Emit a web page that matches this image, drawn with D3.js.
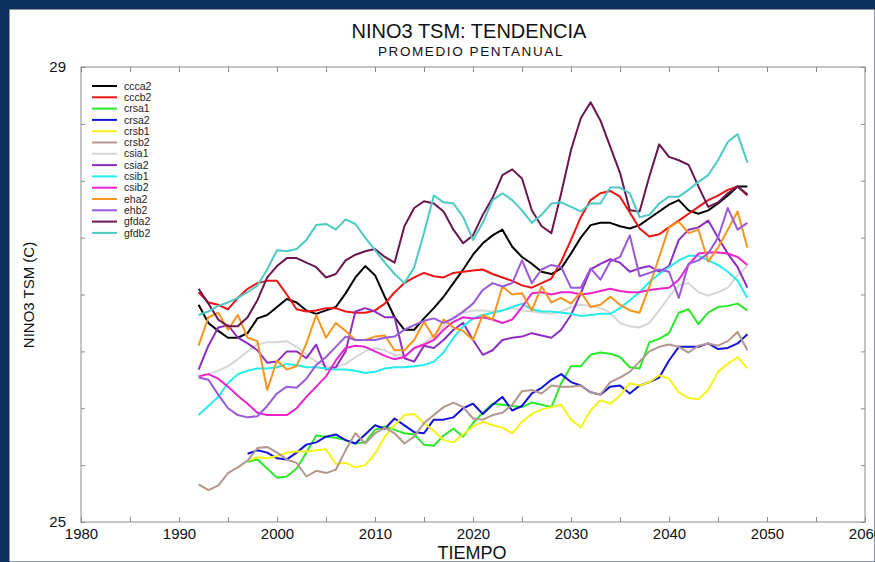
<!DOCTYPE html>
<html>
<head>
<meta charset="utf-8">
<script src="https://cdn.jsdelivr.net/npm/d3@7"></script>
<style>
  html, body { margin: 0; padding: 0; background: #0b2f5e; }
  svg { display: block; }
  .axis path, .axis line { stroke: #8a8a8a; }
  .axis text { fill: #111; font-family: "Liberation Sans", Arial, sans-serif; font-size: 15px; }
  .frame { fill: none; stroke: #8a8a8a; stroke-width: 1; }
  .series-line { fill: none; stroke-width: 2; stroke-linejoin: round; }
  .legend text { font-family: "Liberation Sans", Arial, sans-serif; font-size: 10.5px; fill: #222; }
  .title { font-family: "Liberation Sans", Arial, sans-serif; fill: #111; text-anchor: middle; }
</style>
</head>
<body>
<div id="chart"></div>
<script>
// five-year (pentad) running means, one value per year
const years = d3.range(1992, 2049);
const yearsFrom1997 = d3.range(1997, 2049);

const xTicks = d3.range(1980, 2061, 5);
const xLabels = d3.range(1980, 2061, 10);
const yTicks = d3.range(25, 29.01, 0.5);
const yLabels = [25, 29];

const seriesNames = ['ccca2', 'cccb2', 'crsa1', 'crsa2', 'crsb1', 'crsb2', 'csia1',
  'csia2', 'csib1', 'csib2', 'eha2', 'ehb2', 'gfda2', 'gfdb2'];
const seriesColors = ['#000000', '#ee1414', '#2be82b', '#1414d8', '#f4f41c', '#b3978f', '#d6d6d6',
  '#8e2ec0', '#26ecec', '#ec22cc', '#f7941e', '#9a5ad8', '#6a1650', '#4ccac4'];

const ccca2 = [26.91, 26.75, 26.68, 26.62, 26.62, 26.66, 26.79, 26.82, 26.89, 26.96,
  26.93, 26.86, 26.83, 26.86, 26.89, 27.01, 27.15, 27.25, 27.17, 26.98,
  26.80, 26.69, 26.69, 26.79, 26.88, 26.98, 27.10, 27.22, 27.35, 27.45,
  27.52, 27.57, 27.42, 27.33, 27.27, 27.20, 27.18, 27.23, 27.36, 27.50,
  27.61, 27.63, 27.63, 27.60, 27.58, 27.61, 27.67, 27.73, 27.79, 27.83,
  27.74, 27.71, 27.74, 27.80, 27.87, 27.95, 27.95];
const cccb2 = [27.02, 26.93, 26.91, 26.87, 26.97, 27.05, 27.10, 27.12, 27.12, 27.00,
  26.87, 26.85, 26.86, 26.88, 26.88, 26.85, 26.84, 26.84, 26.86, 26.92,
  27.02, 27.10, 27.15, 27.19, 27.16, 27.15, 27.19, 27.20, 27.21, 27.22,
  27.18, 27.15, 27.12, 27.08, 27.06, 27.10, 27.14, 27.29, 27.48, 27.68,
  27.83, 27.89, 27.91, 27.86, 27.72, 27.58, 27.51, 27.53, 27.59, 27.65,
  27.71, 27.77, 27.83, 27.87, 27.92, 27.95, 27.87];
const crsa1 = [25.53, 25.55, 25.47, 25.39, 25.40, 25.47, 25.61, 25.76, 25.75, 25.74,
  25.72, 25.69, 25.70, 25.81, 25.84, 25.81, 25.78, 25.77, 25.68, 25.67,
  25.76, 25.82, 25.75, 25.87, 25.96, 26.04, 26.03, 26.02, 26.01, 26.05,
  26.03, 26.01, 26.22, 26.37, 26.37, 26.47, 26.49, 26.48, 26.45, 26.36,
  26.35, 26.58, 26.61, 26.66, 26.84, 26.87, 26.74, 26.84, 26.89, 26.90,
  26.92, 26.86];
const crsa2 = [25.60, 25.63, 25.61, 25.56, 25.55, 25.61, 25.68, 25.70, 25.75, 25.77,
  25.72, 25.69, 25.77, 25.85, 25.82, 25.91, 25.85, 25.79, 25.78, 25.90,
  25.90, 25.92, 26.00, 26.04, 25.95, 26.03, 26.10, 25.98, 26.02, 26.13,
  26.18, 26.25, 26.30, 26.23, 26.20, 26.14, 26.12, 26.19, 26.20, 26.13,
  26.20, 26.23, 26.27, 26.42, 26.54, 26.54, 26.54, 26.57, 26.52, 26.53,
  26.57, 26.65];
const crsb1 = [25.54, 25.57, 25.56, 25.58, 25.61, 25.62, 25.62, 25.63, 25.64, 25.51,
  25.52, 25.48, 25.50, 25.60, 25.75, 25.85, 25.94, 25.95, 25.87, 25.80,
  25.72, 25.70, 25.77, 25.84, 25.88, 25.85, 25.83, 25.78, 25.88, 25.95,
  25.99, 26.01, 26.03, 25.90, 25.83, 25.98, 26.07, 26.04, 26.11, 26.22,
  26.20, 26.23, 26.29, 26.26, 26.14, 26.09, 26.08, 26.16, 26.32, 26.39,
  26.45, 26.35];
const crsb2 = [25.33, 25.28, 25.32, 25.43, 25.48, 25.54, 25.65, 25.66, 25.61, 25.55,
  25.52, 25.40, 25.45, 25.43, 25.46, 25.63, 25.78, 25.69, 25.78, 25.83,
  25.78, 25.69, 25.75, 25.87, 25.94, 26.01, 26.05, 26.01, 25.91, 25.90,
  25.94, 25.96, 26.03, 26.15, 26.16, 26.13, 26.20, 26.19, 26.19, 26.20,
  26.14, 26.12, 26.23, 26.27, 26.32, 26.41, 26.50, 26.54, 26.56, 26.54,
  26.49, 26.55, 26.57, 26.55, 26.59, 26.67, 26.51];
const csia1 = [26.28, 26.30, 26.33, 26.37, 26.43, 26.50, 26.56, 26.58, 26.58, 26.59,
  26.54, 26.47, 26.41, 26.37, 26.36, 26.39, 26.45, 26.50, 26.53, 26.51,
  26.47, 26.46, 26.52, 26.57, 26.64, 26.72, 26.80, 26.84, 26.86, 26.86,
  26.85, 26.86, 26.88, 26.86, 26.85, 26.84, 26.83, 26.85, 26.89, 26.91,
  26.90, 26.88, 26.84, 26.75, 26.72, 26.71, 26.75, 26.86, 26.98, 27.08,
  27.10, 27.02, 26.99, 27.02, 27.06, 27.17, 27.25];
const csia2 = [26.34, 26.55, 26.71, 26.73, 26.62, 26.57, 26.51, 26.40, 26.41, 26.50,
  26.50, 26.44, 26.56, 26.34, 26.36, 26.50, 26.85, 26.88, 26.85, 26.80,
  26.80, 26.44, 26.41, 26.55, 26.53, 26.60, 26.69, 26.75, 26.60, 26.47,
  26.51, 26.60, 26.62, 26.63, 26.66, 26.64, 26.62, 26.69, 26.82, 27.01,
  27.22, 27.27, 27.31, 27.28, 27.20, 27.23, 27.25, 27.20, 27.25, 27.48,
  27.57, 27.59, 27.65, 27.50, 27.36, 27.24, 27.06];
const csib1 = [25.94, 26.02, 26.10, 26.22, 26.30, 26.33, 26.35, 26.35, 26.36, 26.39,
  26.38, 26.36, 26.36, 26.35, 26.34, 26.34, 26.33, 26.31, 26.32, 26.35,
  26.36, 26.36, 26.37, 26.38, 26.41, 26.49, 26.62, 26.72, 26.79, 26.82,
  26.84, 26.86, 26.89, 26.92, 26.87, 26.85, 26.85, 26.84, 26.83, 26.81,
  26.82, 26.83, 26.83, 26.88, 26.95, 27.02, 27.11, 27.18, 27.24, 27.30,
  27.34, 27.34, 27.30, 27.26, 27.20, 27.12, 26.97];
const csib2 = [26.28, 26.30, 26.26, 26.19, 26.11, 26.04, 25.96, 25.94, 25.94, 25.94,
  26.00, 26.10, 26.19, 26.28, 26.42, 26.53, 26.55, 26.54, 26.50, 26.46,
  26.43, 26.45, 26.53, 26.56, 26.60, 26.69, 26.76, 26.80, 26.79, 26.80,
  26.78, 26.75, 26.78, 26.89, 27.01, 27.02, 27.00, 27.02, 27.02, 27.00,
  27.01, 27.03, 27.05, 27.03, 27.02, 27.02, 27.04, 27.05, 27.06, 27.13,
  27.26, 27.36, 27.37, 27.37, 27.36, 27.33, 27.26];
const eha2 = [26.55, 26.80, 26.84, 26.69, 26.82, 26.62, 26.59, 26.16, 26.42, 26.34,
  26.37, 26.57, 26.82, 26.62, 26.75, 26.68, 26.60, 26.60, 26.63, 26.64,
  26.51, 26.51, 26.60, 26.76, 26.62, 26.78, 26.71, 26.68, 26.60, 26.82,
  26.78, 27.07, 27.00, 27.01, 26.86, 27.07, 26.93, 26.97, 26.92, 27.02,
  26.89, 26.91, 26.98, 26.91, 26.86, 26.84, 27.07, 27.33, 27.59, 27.64,
  27.54, 27.57, 27.29, 27.41, 27.57, 27.73, 27.41];
const ehb2 = [26.27, 26.25, 26.12, 26.00, 25.94, 25.92, 25.93, 26.02, 26.13, 26.19,
  26.18, 26.26, 26.38, 26.45, 26.54, 26.63, 26.60, 26.60, 26.60, 26.62,
  26.63, 26.69, 26.73, 26.77, 26.79, 26.75, 26.79, 26.85, 26.92, 27.04,
  27.10, 27.07, 27.10, 27.30, 27.10, 27.22, 27.26, 27.24, 27.06, 27.06,
  27.23, 27.13, 27.29, 27.33, 27.52, 27.16, 27.19, 27.22, 27.20, 26.97,
  27.27, 27.30, 27.36, 27.50, 27.76, 27.57, 27.63];
const gfda2 = [27.05, 26.92, 26.78, 26.72, 26.72, 26.80, 26.95, 27.15, 27.25, 27.32,
  27.32, 27.28, 27.24, 27.15, 27.18, 27.30, 27.35, 27.38, 27.40, 27.33,
  27.28, 27.60, 27.76, 27.82, 27.80, 27.73, 27.57, 27.45, 27.52, 27.70,
  27.85, 28.05, 28.10, 28.02, 27.74, 27.60, 27.54, 27.89, 28.27, 28.55,
  28.69, 28.53, 28.30, 28.07, 27.74, 27.73, 28.04, 28.32, 28.21, 28.18,
  28.14, 27.95, 27.77, 27.81, 27.89, 27.95, 27.88];
const gfdb2 = [26.82, 26.85, 26.90, 26.93, 26.97, 27.02, 27.08, 27.22, 27.39, 27.38,
  27.40, 27.48, 27.61, 27.62, 27.57, 27.66, 27.62, 27.50, 27.39, 27.28,
  27.18, 27.10, 27.24, 27.54, 27.87, 27.81, 27.80, 27.68, 27.48, 27.63,
  27.83, 27.89, 27.83, 27.74, 27.63, 27.70, 27.80, 27.81, 27.77, 27.73,
  27.80, 27.80, 27.94, 27.94, 27.89, 27.68, 27.70, 27.80, 27.86, 27.86,
  27.92, 27.99, 28.05, 28.18, 28.34, 28.41, 28.16];

const seriesValues = [ccca2, cccb2, crsa1, crsa2, crsb1, crsb2, csia1,
  csia2, csib1, csib2, eha2, ehb2, gfda2, gfdb2];

class TrendChart {
  constructor(config) {
    this.config = config;
    this.size = {
      width: 875, height: 562,
      marginLeft: 81, marginRight: 10, marginTop: 67, marginBottom: 40
    };
    this.size.chartWidth = this.size.width - this.size.marginLeft - this.size.marginRight;
    this.size.chartHeight = this.size.height - this.size.marginTop - this.size.marginBottom;

    this.data = seriesNames.map((name, i) => {
      const values = seriesValues[i];
      const xs = values.length === years.length ? years : yearsFrom1997;
      return {
        name: name,
        color: seriesColors[i],
        points: values.map((v, j) => { return { year: xs[j], value: v } })
      };
    });

    this.initBaseGraphic();
    this.initScales();
    this.initAxes();
    this.initDataElements();
    this.initLegend();
    this.initTitles();
  }

  initBaseGraphic() {
    this.svg = d3.select(this.config.container).append('svg')
      .attr('width', this.size.width)
      .attr('height', this.size.height);

    this.svg.append('rect')
      .attr('width', this.size.width).attr('height', this.size.height)
      .attr('fill', '#0b2f5e');

    // white panel sitting inside the navy border
    this.svg.append('rect')
      .attr('x', 9).attr('y', 9)
      .attr('width', this.size.width - 9).attr('height', this.size.height - 9)
      .attr('fill', '#ffffff')
      .attr('stroke', '#1c2f48').attr('stroke-width', 1);

    this.chart = this.svg.append('g')
      .attr('transform', `translate(${ this.size.marginLeft }, ${ this.size.marginTop })`);
  }

  initScales() {
    this.xScale = d3.scaleLinear()
      .domain([1980, 2060])
      .range([0, this.size.chartWidth]);

    this.yScale = d3.scaleLinear()
      .domain([25, 29])
      .range([this.size.chartHeight, 0]);
  }

  initAxes() {
    const xFormat = (d) => { return xLabels.includes(d) ? d : '' };
    const yFormat = (d) => { return yLabels.includes(d) ? d : '' };

    this.chart.append('g').attr('class', 'axis')
      .attr('transform', `translate(0, ${ this.size.chartHeight })`)
      .call(d3.axisBottom(this.xScale).tickValues(xTicks).tickFormat(xFormat)
        .tickSize(-5).tickSizeOuter(0).tickPadding(6));

    this.chart.append('g').attr('class', 'axis')
      .call(d3.axisTop(this.xScale).tickValues(xTicks).tickFormat('')
        .tickSize(-5).tickSizeOuter(0));

    this.chart.append('g').attr('class', 'axis')
      .call(d3.axisLeft(this.yScale).tickValues(yTicks).tickFormat(yFormat)
        .tickSize(-4).tickSizeOuter(0).tickPadding(15));

    this.chart.append('g').attr('class', 'axis')
      .attr('transform', `translate(${ this.size.chartWidth }, 0)`)
      .call(d3.axisRight(this.yScale).tickValues(yTicks).tickFormat('')
        .tickSize(-4).tickSizeOuter(0));

    this.chart.selectAll('.axis .domain').remove();

    this.chart.append('rect').attr('class', 'frame')
      .attr('width', this.size.chartWidth)
      .attr('height', this.size.chartHeight);
  }

  initDataElements() {
    const line = d3.line()
      .x((d) => { return this.xScale(d.year) })
      .y((d) => { return this.yScale(d.value) });

    this.chart.append('g').attr('class', 'g-chart-lines')
      .selectAll('.series-line')
      .data(this.data)
        .enter()
      .append('path')
        .attr('class', (d) => { return `series-line line-${ d.name }` })
        .attr('stroke', (d) => { return d.color })
        .attr('d', (d) => { return line(d.points) });
  }

  initLegend() {
    const legend = this.svg.append('g').attr('class', 'legend')
      .attr('transform', 'translate(92, 86)');

    const rows = legend.selectAll('g')
      .data(this.data)
        .enter()
      .append('g')
        .attr('transform', (d, i) => { return `translate(0, ${ i * 11.3 })` });

    rows.append('line')
      .attr('x1', 0).attr('x2', 25)
      .attr('stroke', (d) => { return d.color })
      .attr('stroke-width', 2);

    rows.append('text')
      .attr('x', 32).attr('dy', '0.35em')
      .text((d) => { return d.name });
  }

  initTitles() {
    this.svg.append('text').attr('class', 'title')
      .attr('x', 469).attr('y', 38)
      .style('font-size', '20px')
      .text('NINO3 TSM: TENDENCIA');

    this.svg.append('text').attr('class', 'title')
      .attr('x', 471).attr('y', 56)
      .style('font-size', '13.5px')
      .style('letter-spacing', '1.6px')
      .text('PROMEDIO PENTANUAL');

    this.svg.append('text').attr('class', 'title')
      .attr('transform', 'translate(34, 295) rotate(-90)')
      .style('font-size', '15px')
      .text('NINO3 TSM (C)');

    this.svg.append('text').attr('class', 'title')
      .attr('x', 472).attr('y', 559)
      .style('font-size', '18px')
      .text('TIEMPO');
  }
}

new TrendChart({ container: '#chart' });
</script>
</body>
</html>
